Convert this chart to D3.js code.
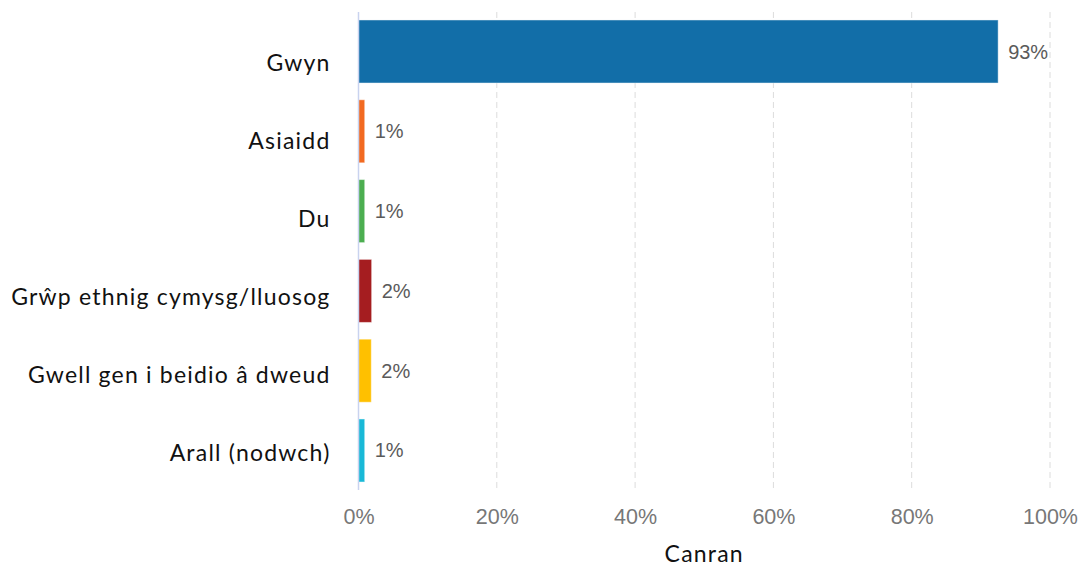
<!DOCTYPE html>
<html>
<head>
<meta charset="utf-8">
<script src="https://cdn.jsdelivr.net/npm/d3@7"></script>
<style>
  body { margin: 0; background: #fff; }
  #chart { width: 1081px; height: 568px; }
</style>
</head>
<body>
<div id="chart"></div>
<script>
const categories = ["Gwyn", "Asiaidd", "Du", "Grŵp ethnig cymysg/lluosog", "Gwell gen i beidio â dweud", "Arall (nodwch)"];
const values = [92.5, 0.9, 0.9, 1.9, 1.85, 0.9];
const valueLabels = ["93%", "1%", "1%", "2%", "2%", "1%"];
const colors = ["#126ea8", "#f26a21", "#4cae50", "#a51d20", "#ffc000", "#19b9d7"];
const xTicks = [0, 20, 40, 60, 80, 100];
const xLabel = "Canran";

const fullWidth = 1081;
const fullHeight = 568;
const margin = { top: 12, right: 31, bottom: 78, left: 358.5 };
const width = fullWidth - margin.left - margin.right;
const height = fullHeight - margin.top - margin.bottom;

const svg = d3.select("#chart")
  .append("svg")
  .attr("width", fullWidth)
  .attr("height", fullHeight)
  .append("g")
  .attr("transform", `translate(${margin.left},${margin.top})`);

const x = d3.scaleLinear().domain([0, 100]).range([0, width]);

const y = d3.scaleBand()
  .domain(categories)
  .range([0, height])
  .paddingInner(0.21)
  .paddingOuter(0.1);

// category labels sit on a slightly tighter spacing than the bars
const yLabel = d3.scalePoint()
  .domain(categories)
  .range([50, 440.5]);

// gridlines
svg.append("g")
  .selectAll("line")
  .data(xTicks.filter(d => d > 0))
  .enter()
  .append("line")
  .attr("x1", d => x(d))
  .attr("x2", d => x(d))
  .attr("y1", 0)
  .attr("y2", height)
  .attr("stroke", "#dcdcdc")
  .attr("stroke-width", 1)
  .attr("stroke-dasharray", "6,4");

// bars
svg.selectAll("rect.bar")
  .data(categories)
  .enter()
  .append("rect")
  .attr("class", "bar")
  .attr("x", 0)
  .attr("y", d => y(d))
  .attr("width", (d, i) => x(values[i]))
  .attr("height", y.bandwidth())
  .attr("fill", (d, i) => colors[i])
  .attr("stroke", "rgba(255,255,255,0.45)")
  .attr("stroke-width", 1);

// zero axis line
svg.append("line")
  .attr("x1", 0).attr("x2", 0)
  .attr("y1", 0).attr("y2", height)
  .attr("stroke", "#c9d3ef")
  .attr("stroke-width", 1.5);

// value labels
svg.selectAll("text.val")
  .data(categories)
  .enter()
  .append("text")
  .attr("class", "val")
  .attr("x", (d, i) => x(values[i]) + 10)
  .attr("y", d => y(d) + y.bandwidth() / 2)
  .attr("dy", "0.35em")
  .style("font-family", "'Liberation Sans', Arial, sans-serif")
  .style("font-size", "20px")
  .style("fill", "#5a5a5a")
  .text((d, i) => valueLabels[i]);

// category labels
const yAxis = svg.append("g")
  .call(d3.axisLeft(yLabel).tickSize(0).tickPadding(28));
yAxis.select(".domain").remove();
yAxis.selectAll("text")
  .attr("dy", "0.36em")
  .style("font-family", "Lato, sans-serif")
  .style("font-size", "23px")
  .style("letter-spacing", "1.2px")
  .style("fill", "#111");

// x axis tick labels
const xAxis = svg.append("g")
  .attr("transform", `translate(0,${height})`)
  .call(d3.axisBottom(x).tickValues(xTicks).tickSize(0).tickPadding(19).tickFormat(d => d + "%"));
xAxis.select(".domain").remove();
xAxis.selectAll("text")
  .style("font-family", "'Liberation Sans', Arial, sans-serif")
  .style("font-size", "21.5px")
  .style("fill", "#777");

svg.append("text")
  .attr("x", width / 2)
  .attr("y", height + 72)
  .style("text-anchor", "middle")
  .style("font-family", "Lato, sans-serif")
  .style("font-size", "23px")
  .style("letter-spacing", "1.2px")
  .style("fill", "#111")
  .text(xLabel);
</script>
</body>
</html>
